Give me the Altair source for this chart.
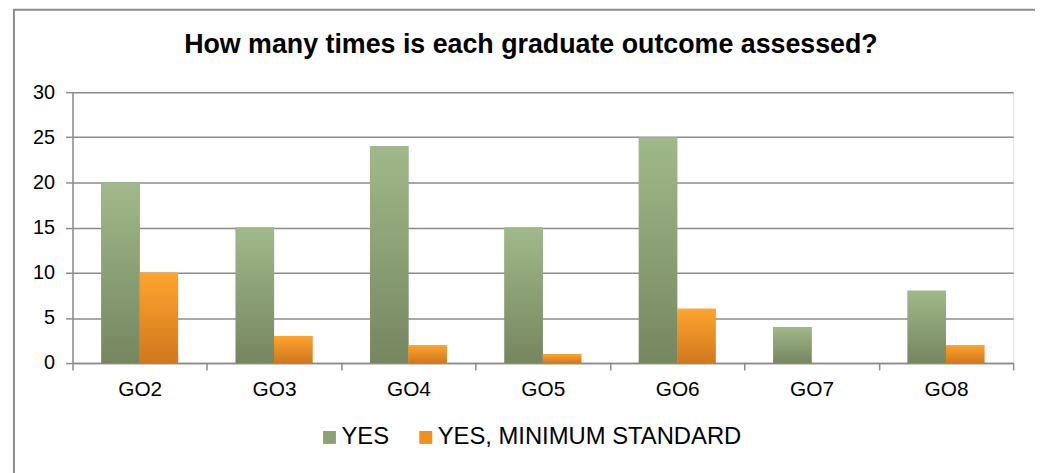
import altair as alt
import pandas as pd

categories = ["GO2", "GO3", "GO4", "GO5", "GO6", "GO7", "GO8"]
yes_values = [20, 15, 24, 15, 25, 4, 8]
min_std_values = [10, 3, 2, 1, 6, 0, 2]
series_names = ["YES", "YES, MINIMUM STANDARD"]
y_ticks = [0, 5, 10, 15, 20, 25, 30]
title_text = "How many times is each graduate outcome assessed?"

rows = []
for c, v in zip(categories, yes_values):
    rows.append({"cat": c, "series": series_names[0], "value": v})
for c, v in zip(categories, min_std_values):
    rows.append({"cat": c, "series": series_names[1], "value": v})
df = pd.DataFrame(rows)

FONT = "Liberation Sans"
GRID = "#8c8c8c"

green_grad = {"gradient": "linear", "x1": 0, "y1": 0, "x2": 0, "y2": 1,
              "stops": [{"offset": 0, "color": "#a0b98a"}, {"offset": 1, "color": "#76865f"}]}
orange_grad = {"gradient": "linear", "x1": 0, "y1": 0, "x2": 0, "y2": 1,
               "stops": [{"offset": 0, "color": "#ffa42f"}, {"offset": 1, "color": "#cf781d"}]}

x_enc = alt.X("cat:N", sort=categories, title=None,
              scale=alt.Scale(paddingInner=0, paddingOuter=0),
              axis=alt.Axis(labelAngle=0, tickBand="extent", tickSize=7, tickColor=GRID,
                            tickWidth=1.5, domainColor=GRID, domainWidth=1.5,
                            labelFont=FONT, labelFontSize=21, labelColor="#000000",
                            labelPadding=9, grid=False))
xo_enc = alt.XOffset("series:N", sort=series_names,
                     scale=alt.Scale(domain=series_names, paddingInner=0, paddingOuter=0.75))
y_enc = alt.Y("value:Q", title=None,
              scale=alt.Scale(domain=[0, 30], nice=False),
              axis=alt.Axis(values=y_ticks, tickSize=7, tickColor=GRID, tickWidth=1.5,
                            domainColor=GRID, domainWidth=1.5, gridColor=GRID, gridWidth=1.5,
                            labelFont=FONT, labelFontSize=20, labelColor="#000000",
                            labelPadding=11))

base = alt.Chart(df)

legend_layer = base.mark_bar().encode(
    x=x_enc, xOffset=xo_enc, y=y_enc,
    color=alt.Color("series:N", sort=series_names,
                    scale=alt.Scale(domain=series_names, range=["#8ca275", "#f0901f"]),
                    legend=alt.Legend(orient="none", direction="horizontal", title=None,
                                      legendX=247, legendY=336, padding=0,
                                      symbolType="square", symbolSize=169,
                                      symbolStrokeWidth=0, labelFont=FONT,
                                      labelFontSize=24, labelColor="#000000",
                                      labelLimit=500, labelOffset=0, columnPadding=24)),
)

green_layer = base.transform_filter(alt.datum.series == series_names[0]).mark_bar(
    fill=green_grad).encode(x=x_enc, xOffset=xo_enc, y=y_enc)
orange_layer = base.transform_filter(alt.datum.series == series_names[1]).mark_bar(
    fill=orange_grad).encode(x=x_enc, xOffset=xo_enc, y=y_enc)

one = pd.DataFrame({"t": [title_text]})
frame = alt.Chart(one).mark_rect(
    fillOpacity=0, stroke="#8c8c8c", strokeWidth=2).encode(
    x=alt.value(-59), x2=alt.value(1100), y=alt.value(-83), y2=alt.value(600))
title_layer = alt.Chart(one).mark_text(
    font=FONT, fontSize=27, fontWeight="bold", color="#000000",
    align="center", baseline="alphabetic").encode(
    text="t:N", x=alt.value(462), y=alt.value(-39))

chart = alt.layer(frame, title_layer, legend_layer, green_layer, orange_layer).properties(
    width=948, height=273,
    padding={"left": 65, "top": 83, "right": 22, "bottom": 109},
    autosize=alt.AutoSizeParams(type="none"),
).configure_view(stroke=None).configure(background="white")

chart.save("out.html", embed_options={"renderer": "svg", "actions": False})
